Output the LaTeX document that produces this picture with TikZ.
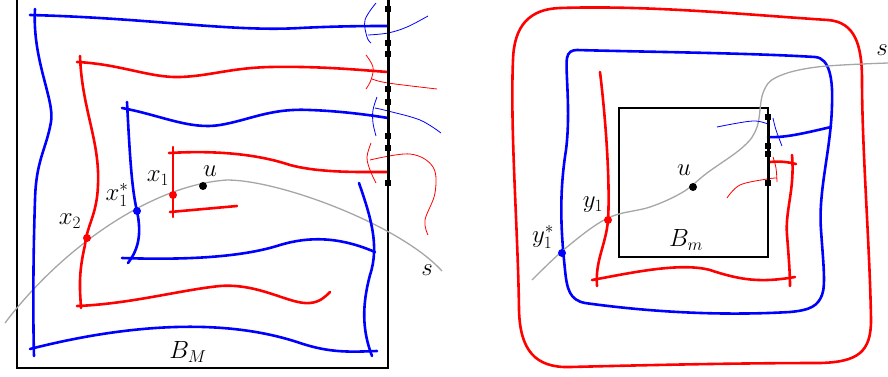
\documentclass[tikz,border=0pt]{standalone}
\begin{document}
\begin{tikzpicture}[x=1pt,y=-1pt,
  thickb/.style={blue,line width=2.6pt,line cap=round},
  thickr/.style={red,line width=2.6pt,line cap=round},
  thinb/.style={blue,line width=0.8pt},
  thinr/.style={red,line width=0.8pt},
  sline/.style={gray!70,line width=1.3pt},
  frame/.style={black,line width=1.6pt},
  edge/.style={black,line width=3pt},
  sq/.style={fill=black,minimum size=6pt,inner sep=0pt,rectangle},
  dotr/.style={circle,fill=red,inner sep=0pt,minimum size=8pt},
  dotb/.style={circle,fill=blue,inner sep=0pt,minimum size=8pt},
  dotk/.style={circle,fill=black,inner sep=0pt,minimum size=8pt},
  lab/.style={font=\fontsize{24}{28}\selectfont,inner sep=0pt},
  sm/.style={smooth,tension=0.6}]
\useasboundingbox (0,0) rectangle (888,376);
% ---------------- LEFT PANEL ----------------
\draw[frame] (17,-3) -- (17,368) -- (388,368) -- (388,-3);
\draw[sline] (5,323) .. controls (60,250) and (150,185) .. (227,180) .. controls (280,180) and (400,225) .. (442,271);
% blue outer
\draw[thickb] (30,15) .. controls (150,18) and (230,32) .. (300,28) .. controls (340,26) and (370,26) .. (388,26);
\draw[thickb] (35,9) .. controls (32,60) and (55,100) .. (51,122) .. controls (46,150) and (36,160) .. (35,200) .. controls (33,260) and (33,320) .. (34,356);
\draw[thickb] (30,349) .. controls (120,326) and (220,316) .. (300,343) .. controls (330,353) and (350,352) .. (377,351);
\draw[thickb] (359,183) .. controls (370,215) and (380,245) .. (370,275) .. controls (362,305) and (362,330) .. (372,356);
% blue inner
\draw[thickb] (122,108) .. controls (160,115) and (190,130) .. (220,125) .. controls (250,120) and (270,108) .. (310,110) .. controls (340,111) and (370,115) .. (388,118);
\draw[thickb] (127,102) .. controls (130,160) and (132,190) .. (137,211) .. controls (142,235) and (138,250) .. (128,263);
\draw[thickb] (122,258) .. controls (180,260) and (240,258) .. (280,245) .. controls (310,236) and (340,237) .. (375,252);
% red outer
\draw[thickr] (77,62) .. controls (120,64) and (150,78) .. (180,77) .. controls (210,76) and (230,68) .. (270,67) .. controls (320,66) and (360,70) .. (388,72);
\draw[thickr] (80,56) .. controls (82,110) and (100,140) .. (98,185) .. controls (97,215) and (87,225) .. (85,245) .. controls (78,275) and (80,290) .. (81,308);
\draw[thickr] (77,306) .. controls (130,304) and (180,290) .. (220,286) .. controls (260,283) and (290,305) .. (310,303) .. controls (320,302) and (325,297) .. (330,292);
% red inner
\draw[thickr] (169,153) .. controls (220,150) and (260,155) .. (290,165) .. controls (320,173) and (360,172) .. (388,172);
\draw[thickr] (173,147) -- (173,217);
\draw[thickr] (170,212) -- (237,206);
% thin curves at the edge
\draw[thinb] plot[sm] coordinates {(376,3) (365,20) (367,37) (371,43)};
\draw[thinb] plot[sm] coordinates {(368,35) (388,33) (407,27) (428,16)};
\draw[thinr] plot[sm] coordinates {(366,55) (373,67) (371,80) (366,89)};
\draw[thinr] plot[sm] coordinates {(372,79) (388,83) (437,89)};
\draw[thinb] plot[sm] coordinates {(377,97) (373,110) (373,123) (376,136)};
\draw[thinb] plot[sm] coordinates {(375,108) (388,111) (420,120) (441,133)};
\draw[thinr] plot[sm] coordinates {(371,143) (367,157) (370,170) (376,183)};
\draw[thinr] plot[sm] coordinates {(370,160) (410,154) (433,167) (435,193) (425,220) (428,235)};
% thick black edge
\draw[edge] (388,-3) -- (388,183);
\foreach \y in {9,43,54,89,102,136,148,183} \node[sq] at (388,\y) {};
% points and labels
\node[dotr] (x1) at (173,195) {};
\node[dotr] (x2) at (87,238) {};
\node[dotb] (x1s) at (137,211) {};
\node[dotk] (uL) at (203,186) {};
\node[lab] at (158,178) {$x_1$};
\node[lab] at (117,195) {$x_1^*$};
\node[lab] at (70,221) {$x_2$};
\node[lab] at (210,171) {$u$};
\node[lab] at (427,270) {$s$};
\node[lab] at (188,352) {$B_M$};
% ---------------- RIGHT PANEL ----------------
\draw[thickr] (560,8) .. controls (650,5) and (750,15) .. (828,20) .. controls (855,22) and (862,45) .. (862,80) .. controls (862,150) and (870,250) .. (871,320) .. controls (871,352) and (858,362) .. (820,363) .. controls (740,363) and (650,365) .. (570,367) .. controls (535,368) and (520,350) .. (519,310) .. controls (518,230) and (510,130) .. (513,60) .. controls (514,25) and (530,9) .. (560,8) -- cycle;
\draw[thickb] (577,50) .. controls (650,52) and (750,53) .. (815,57) .. controls (830,58) and (833,80) .. (832,105) .. controls (831,150) and (818,190) .. (821,230) .. controls (823,260) and (826,285) .. (822,295) .. controls (818,305) and (812,310) .. (790,312) .. controls (720,316) and (650,312) .. (585,303) .. controls (570,300) and (567,290) .. (565,270) .. controls (562,240) and (558,200) .. (566,150) .. controls (571,110) and (565,70) .. (567,58) .. controls (568,52) and (572,50) .. (577,50) -- cycle;
\draw[frame] (619,108) rectangle (768,257);
\draw[sline] plot[sm] coordinates {(532,280) (567,247) (608,218) (650,207) (683,192) (707,173) (743,147) (757,127) (763,93) (777,77) (817,67) (888,63)};
\draw[thickb] (831,127) .. controls (805,133) and (785,138) .. (768,137);
\draw[thickr] (600,72) .. controls (607,130) and (610,190) .. (608,220) .. controls (606,245) and (595,260) .. (597,286);
\draw[thickr] (592,280) .. controls (630,273) and (680,262) .. (710,270) .. controls (740,280) and (760,283) .. (795,277);
\draw[thickr] (792,155) .. controls (795,190) and (785,210) .. (787,235) .. controls (789,260) and (790,275) .. (790,286);
\draw[thickr] (770,162) .. controls (780,161) and (788,162) .. (796,164);
\draw[thinb] plot[sm] coordinates {(717,127) (753,121) (770,125)};
\draw[thinb] plot[sm] coordinates {(773,118) (776,130) (782,146)};
\draw[thinr] plot[sm] coordinates {(727,198) (740,185) (767,179) (777,178)};
\draw[thinr] plot[sm] coordinates {(773,157) (776,168) (777,182)};
\draw[edge] (768,115) -- (768,185);
\foreach \y in {117,146,154,183} \node[sq] at (768,\y) {};
\node[dotr] (y1) at (608,220) {};
\node[dotb] (y1s) at (562,253) {};
\node[dotk] (uR) at (693,187) {};
\node[lab] at (684,170) {$u$};
\node[lab] at (593,205) {$y_1$};
\node[lab] at (543,237) {$y_1^*$};
\node[lab] at (686,240) {$B_m$};
\node[lab] at (882,50) {$s$};
\end{tikzpicture}
\end{document}
